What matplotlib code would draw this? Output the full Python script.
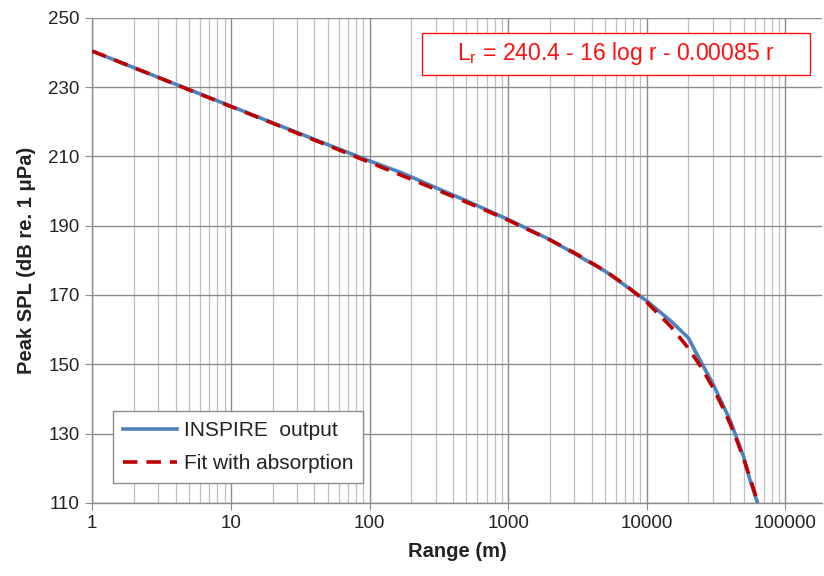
import matplotlib
matplotlib.use("Agg")
import matplotlib.pyplot as plt
from matplotlib.patches import Rectangle
from matplotlib.ticker import LogLocator, FixedLocator, NullFormatter

plt.rcParams['font.family'] = ['Liberation Sans', 'DejaVu Sans']
plt.rcParams['mathtext.fontset'] = 'custom'
plt.rcParams['mathtext.rm'] = 'Liberation Sans'

# INSPIRE model output
r_inspire = [1, 2, 5, 10, 20, 50, 100, 170, 300, 500, 1000, 2000, 5000,
             10000, 15000, 20000, 22000, 25000, 30000, 40000, 50000, 55000, 63000]
spl_inspire = [240.4, 235.6, 229.3, 224.5, 219.7, 213.4, 208.7, 205.3, 201.0, 197.2,
               191.8, 186.0, 176.9, 168.3, 162.4, 157.6, 154.4, 150.2, 144.4, 133.8,
               123.3, 117.2, 110.0]

# fitted curve with absorption
r_fit = [1, 2, 3, 5, 7, 10, 20, 30, 50, 70, 100, 200, 300, 500, 700, 1000, 2000, 3000,
         5000, 7000, 10000, 15000, 20000, 25000, 30000, 35000, 40000, 45000, 50000,
         55000, 60000, 63000]
spl_fit = [240.4, 235.6, 232.8, 229.2, 226.9, 224.4, 219.6, 216.7, 213.2, 210.8, 208.3,
           203.4, 200.5, 196.8, 194.3, 191.6, 185.9, 182.2, 177.0, 172.9, 167.9, 160.8,
           154.6, 148.8, 143.3, 137.9, 132.8, 127.7, 122.7, 117.8, 113.0, 110.1]

y_ticks = [110, 130, 150, 170, 190, 210, 230, 250]
x_ticks = [1, 10, 100, 1000, 10000, 100000]
x_labels = ['1', '10', '100', '1000', '10000', '100000']

fig = plt.figure(figsize=(8.24, 5.76), dpi=100)
ax = fig.add_axes([0.112, 0.127, 0.886, 0.842])

ax.plot(r_inspire, spl_inspire, color='#4F81BD', lw=2.6, label='INSPIRE  output',
        zorder=3)
ax.plot(r_fit, spl_fit, color='#C00000', lw=2.6, ls=(0, (4, 2.5)),
        label='Fit with absorption', zorder=4)

ax.set_xscale('log')
ax.set_xlim(1, 10 ** 5.267)
ax.set_ylim(110, 250)
ax.xaxis.set_major_locator(FixedLocator(x_ticks))
ax.set_xticklabels(x_labels)
ax.xaxis.set_minor_locator(LogLocator(base=10, subs=range(2, 10), numticks=20))
ax.xaxis.set_minor_formatter(NullFormatter())
ax.set_yticks(y_ticks)

ax.grid(which='major', color='#8c8c8c', lw=1.0)
ax.grid(which='minor', axis='x', color='#bfbfbf', lw=0.9)
ax.set_axisbelow(True)

for s in ['top', 'right']:
    ax.spines[s].set_visible(False)
for s in ['left', 'bottom']:
    ax.spines[s].set_color('#8c8c8c')
    ax.spines[s].set_linewidth(1.0)

ax.tick_params(which='major', length=5, color='#8c8c8c', labelsize=13.5,
               labelcolor='#222222', pad=4, direction='out')
ax.tick_params(which='minor', length=0)

ax.set_xlabel('Range (m)', fontsize=14.5, fontweight='bold', color='#222222', labelpad=7)
ax.set_ylabel('Peak SPL (dB re. 1 μPa)', fontsize=14.5, fontweight='bold',
              color='#222222', labelpad=9)

leg = ax.legend(loc='lower left', bbox_to_anchor=(0.028, 0.04), borderaxespad=0,
                fontsize=15, fancybox=False, framealpha=1, edgecolor='#8c8c8c',
                handlelength=2.6, handletextpad=0.3, borderpad=0.5, labelspacing=0.65)
leg.get_frame().set_linewidth(1.0)
for t in leg.get_texts():
    t.set_color('#222222')

# formula box
ax.add_patch(Rectangle((0.4516, 0.8825), 0.5314, 0.0865, transform=ax.transAxes,
                       facecolor='white', edgecolor='#FF1010', lw=1.0, zorder=5))
ax.text(0.717, 0.926, r'L$_\mathrm{r}$ = 240.4 - 16 log r - 0.00085 r',
        transform=ax.transAxes, ha='center', va='center', fontsize=16.5,
        color='#FF1010', zorder=6)

fig.savefig('out.png', dpi=100)
